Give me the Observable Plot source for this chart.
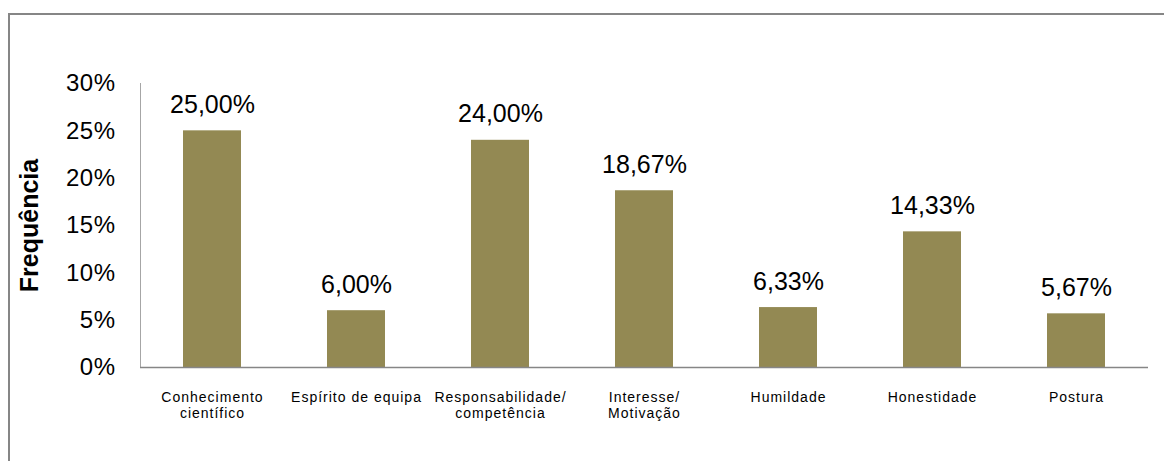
<!DOCTYPE html>
<html>
<head>
<meta charset="utf-8">
<script src="https://cdn.jsdelivr.net/npm/d3@7"></script>
<script src="https://cdn.jsdelivr.net/npm/@observablehq/plot@0.6"></script>
<style>
  html, body { margin: 0; padding: 0; background: #fff; overflow: hidden; }
  #wrap { position: relative; width: 1164px; height: 461px; }
  #border { position: absolute; left: 8px; top: 13px; width: 1200px; height: 500px;
            border-top: 2px solid #868686; border-left: 2px solid #868686; pointer-events: none; }
  g[aria-label="x-axis tick label"] text { letter-spacing: 1px; }
  g[aria-label="y-axis tick label"] text { letter-spacing: 0.5px; }
  g[aria-label="value label"] text { letter-spacing: 1px; }
  g[aria-label="y title"] text { letter-spacing: 1px; }
</style>
</head>
<body>
<div id="wrap"><div id="border"></div></div>
<script>
const categories = [
  "Conhecimento\ncientífico",
  "Espírito de equipa",
  "Responsabilidade/\ncompetência",
  "Interesse/\nMotivação",
  "Humildade",
  "Honestidade",
  "Postura"
];
const values = [25.00, 6.00, 24.00, 18.67, 6.33, 14.33, 5.67];
const yTicks = [0, 5, 10, 15, 20, 25, 30];
const yTitle = "Frequência";

const data = categories.map((c, i) => ({category: c, value: values[i]}));
const fmt = v => v.toFixed(2).replace(".", ",") + "%";

const chart = Plot.plot({
  width: 1164,
  height: 461,
  marginLeft: 140,
  marginRight: 16,
  marginTop: 83,
  marginBottom: 94,
  style: {fontFamily: "Arial, 'Liberation Sans', sans-serif", color: "#000", background: "transparent", overflow: "visible"},
  x: {domain: categories, paddingInner: 0.6, paddingOuter: 0.3, label: null},
  y: {domain: [0, 30], label: null},
  marks: [
    Plot.barY(data, {x: "category", y: "value", fill: "#938953"}),
    Plot.frame({anchor: "left", stroke: "#a6a6a6"}),
    Plot.ruleY([0], {stroke: "#868686", strokeWidth: 1.5}),
    Plot.axisY({ticks: yTicks, tickFormat: d => d + "%", tickSize: 0, tickPadding: 25, fontSize: 24, label: null}),
    Plot.axisX({tickSize: 0, tickPadding: 23, fontSize: 14, lineHeight: 1.15, label: null}),
    Plot.text(data, {x: "category", y: "value", text: d => fmt(d.value), dy: -18, lineAnchor: "bottom", fontSize: 25, ariaLabel: "value label"}),
    Plot.text([yTitle], {text: d => d, frameAnchor: "left", textAnchor: "middle", rotate: -90, dx: -111, fontSize: 25, fontWeight: "bold", ariaLabel: "y title"})
  ]
});
document.getElementById("wrap").prepend(chart);
</script>
</body>
</html>
